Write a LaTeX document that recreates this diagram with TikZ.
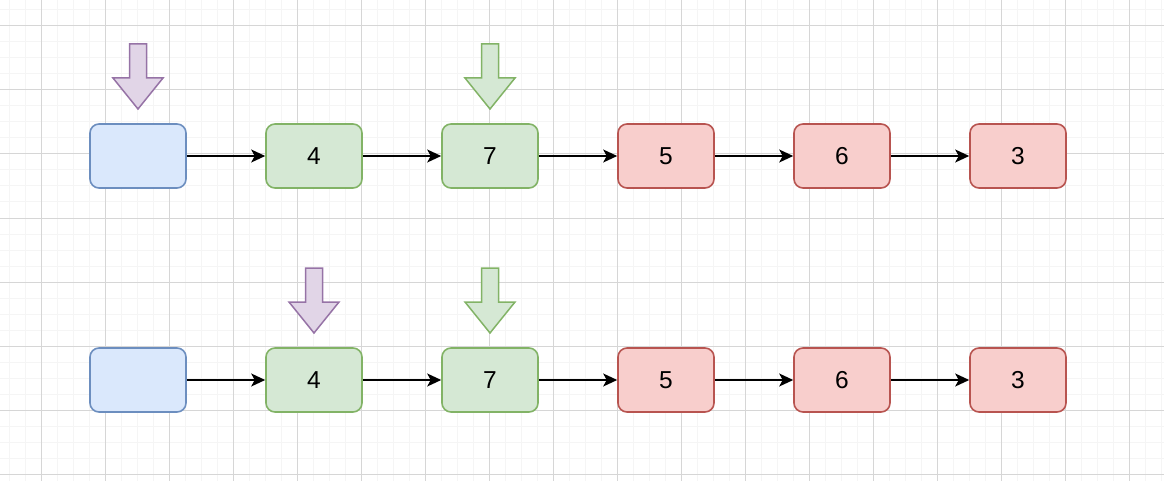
\documentclass[tikz,border=0pt]{standalone}
\usepackage{fontspec}
\setmainfont{Liberation Sans}
\usetikzlibrary{arrows.meta}
\definecolor{gridminor}{HTML}{F5F5F5}
\definecolor{gridmajor}{HTML}{D6D6D6}
\definecolor{bluefill}{HTML}{DAE8FC}
\definecolor{blueline}{HTML}{6C8EBF}
\definecolor{greenfill}{HTML}{D5E8D4}
\definecolor{greenline}{HTML}{82B366}
\definecolor{redfill}{HTML}{F8CECC}
\definecolor{redline}{HTML}{B85450}
\definecolor{purplefill}{HTML}{E1D5E7}
\definecolor{purpleline}{HTML}{9673A6}
\tikzset{
  cellbox/.style={draw, line width=1.6pt, rounded corners=9pt, minimum width=96pt,
    minimum height=64pt, inner sep=0pt, font=\fontsize{24.5}{28}\selectfont},
  headbox/.style={cellbox, fill=bluefill, draw=blueline},
  keepbox/.style={cellbox, fill=greenfill, draw=greenline},
  dropbox/.style={cellbox, fill=redfill, draw=redline},
  link/.style={line width=1.6pt, -{Stealth[length=14pt,width=13pt,inset=3.5pt]}}
}
% down arrow over a box: centre x, top y, fill, line
\newcommand{\pointer}[4]{\draw[line width=1.5pt, fill=#3, draw=#4, line join=miter]
  (#1-8.5,#2) -- (#1+8.5,#2) -- (#1+8.5,#2+34) -- (#1+25,#2+34) -- (#1,#2+65)
  -- (#1-25,#2+34) -- (#1-8.5,#2+34) -- cycle;}

\begin{document}
\begin{tikzpicture}[x=1pt,y=-1pt]
\useasboundingbox (0,0) rectangle (1164,481);
% grid
\foreach \gx in {9,25,...,1164} \draw[gridminor, line width=1pt] (\gx,0) -- (\gx,481);
\foreach \gy in {10,26,...,481} \draw[gridminor, line width=1pt] (0,\gy) -- (1164,\gy);
\foreach \gx in {41,105,...,1164} \draw[gridmajor, line width=1pt] (\gx,0) -- (\gx,481);
\foreach \gy in {26,90,...,481} \draw[gridmajor, line width=1pt] (0,\gy) -- (1164,\gy);
% row 1 of boxes
\node[headbox] (h1) at (138,156) {};
\node[keepbox] (a1) at (314,156) {4};
\node[keepbox] (b1) at (490,156) {7};
\node[dropbox] (c1) at (666,156) {5};
\node[dropbox] (d1) at (842,156) {6};
\node[dropbox] (e1) at (1018,156) {3};
% row 2 of boxes
\node[headbox] (h2) at (138,380) {};
\node[keepbox] (a2) at (314,380) {4};
\node[keepbox] (b2) at (490,380) {7};
\node[dropbox] (c2) at (666,380) {5};
\node[dropbox] (d2) at (842,380) {6};
\node[dropbox] (e2) at (1018,380) {3};
% links
\foreach \r in {1,2} {
  \draw[link] (h\r) -- (a\r);
  \draw[link] (a\r) -- (b\r);
  \draw[link] (b\r) -- (c\r);
  \draw[link] (c\r) -- (d\r);
  \draw[link] (d\r) -- (e\r);
}
% pointers
\pointer{138}{44}{purplefill}{purpleline}
\pointer{490}{44}{greenfill}{greenline}
\pointer{314}{268}{purplefill}{purpleline}
\pointer{490}{268}{greenfill}{greenline}
\end{tikzpicture}
\end{document}
